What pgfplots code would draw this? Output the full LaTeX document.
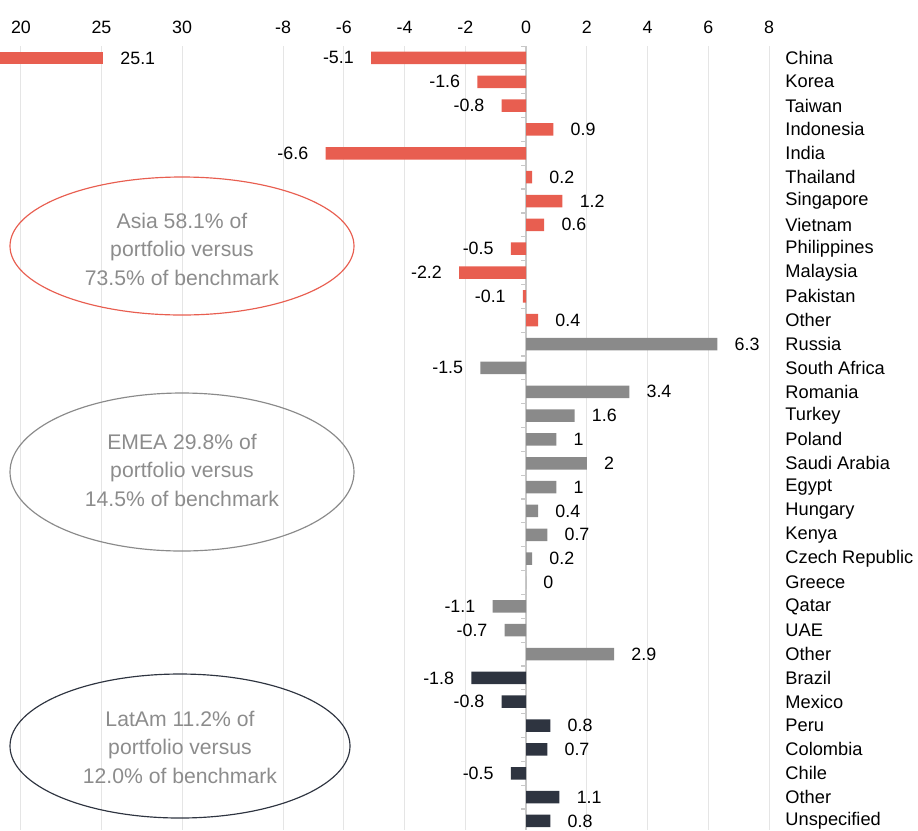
\documentclass[border=0pt]{standalone}
\usepackage{pgfplots}
\pgfplotsset{compat=1.18}
\usepackage{pgfplotstable}
\usepackage{fontspec}
\setmainfont{Liberation Sans}

\definecolor{asiared}{RGB}{232,94,80}
\definecolor{emeagray}{RGB}{138,138,138}
\definecolor{latamdark}{RGB}{46,52,64}
\definecolor{gridgray}{RGB}{229,229,229}
\definecolor{zerogray}{RGB}{200,200,200}
\definecolor{notegray}{RGB}{140,140,140}

\newcommand\lblfont{\fontsize{10.7}{12.8}\selectfont}
\newcommand\catfont{\fontsize{10.95}{13}\selectfont}
\newcommand\notefont{\fontsize{12.7}{17.1}\selectfont}

% Relative weights (percentage points); pos = row, 0 at the top
\pgfplotstableread{
pos val
0   -5.1
1   -1.6
2   -0.8
3   0.9
4   -6.6
5   0.2
6   1.2
7   0.6
8   -0.5
9   -2.2
10  -0.1
11  0.4
}\asia

\pgfplotstableread{
pos val
12  6.3
13  -1.5
14  3.4
15  1.6
16  1
17  2
18  1
19  0.4
20  0.7
21  0.2
22  0
23  -1.1
24  -0.7
25  2.9
}\emea

\pgfplotstableread{
pos val
26  -1.8
27  -0.8
28  0.8
29  0.7
30  -0.5
31  1.1
32  0.8
}\latam

% China on the wide scale
\pgfplotstableread{
pos val
0   25.1
}\chinawide

\pgfplotsset{
  panel/.style={
    scale only axis, height=470.4pt,
    anchor=north west,
    xbar, bar width=7.5pt,
    y dir=reverse, ymin=-0.5, ymax=32.38,
    xticklabel pos=upper,
    axis line style={draw=none},
    tick style={draw=none},
    xmajorgrids, grid style={gridgray, line width=0.6pt},
    xticklabel style={anchor=south, inner sep=0pt, yshift=7.2pt, font=\lblfont},
    /pgf/number format/assume math mode=true,
  },
  % labels to the right of positive bars, to the left of negative ones
  poslab/.style={
    nodes near coords, point meta=explicit symbolic,
    restrict x to domain=0:40,
    every node near coord/.append style={anchor=west, inner xsep=10.2pt,
      inner ysep=0pt, text=black, font=\lblfont},
  },
  neglab/.style={
    nodes near coords, point meta=explicit symbolic,
    restrict x to domain=-40:-0.001,
    every node near coord/.append style={anchor=east, inner xsep=10.2pt,
      inner ysep=0pt, text=black, font=\lblfont},
  },
}

\begin{document}
\begin{tikzpicture}
\useasboundingbox (0,0) rectangle (550.8pt,-498pt);

% wide scale panel
\begin{axis}[panel, at={(0pt,-27.6pt)}, width=150pt,
  xmin=18.70, xmax=34.22, xtick={20,25,30}, ytick=\empty]
  \addplot[fill=asiared, draw=none, bar shift=0pt, poslab]
    table[x=val, y=pos, meta=val] \chinawide;
\end{axis}

% main panel
\begin{axis}[panel, at={(169.8pt,-27.6pt)}, width=291.6pt,
  xmin=-8, xmax=8, xtick={-8,-6,...,8},
  ytick={0,...,32},
  yticklabels={China,Korea,Taiwan,Indonesia,India,Thailand,Singapore,Vietnam,Philippines,Malaysia,Pakistan,Other,
    Russia,South Africa,Romania,Turkey,Poland,Saudi Arabia,Egypt,Hungary,Kenya,Czech Republic,Greece,Qatar,UAE,Other,
    Brazil,Mexico,Peru,Colombia,Chile,Other,Unspecified},
  yticklabel pos=upper,
  yticklabel style={anchor=west, inner sep=0pt, xshift=5.4pt, font=\catfont}]
  \draw[zerogray, line width=0.7pt] (axis cs:0,-0.5) -- (axis cs:0,32.38);
  \pgfplotsinvokeforeach{0,...,32}{
    \draw[zerogray, line width=0.7pt] (axis cs:0,#1-0.5) -- ([xshift=-3pt]axis cs:0,#1-0.5);
  }
  \addplot[fill=asiared, draw=none, bar shift=0pt, poslab]
    table[x=val, y=pos, meta=val] \asia;
  \addplot[fill=asiared, draw=none, bar shift=0pt, neglab]
    table[x=val, y=pos, meta=val] \asia;
  \addplot[fill=emeagray, draw=none, bar shift=0pt, poslab]
    table[x=val, y=pos, meta=val] \emea;
  \addplot[fill=emeagray, draw=none, bar shift=0pt, neglab]
    table[x=val, y=pos, meta=val] \emea;
  \addplot[fill=latamdark, draw=none, bar shift=0pt, poslab]
    table[x=val, y=pos, meta=val] \latam;
  \addplot[fill=latamdark, draw=none, bar shift=0pt, neglab]
    table[x=val, y=pos, meta=val] \latam;
\end{axis}

% regional summaries
\begin{scope}[x=0.6pt, y=-0.6pt]
  \draw[asiared, line width=0.7pt] (182,246) ellipse [x radius=103.2pt, y radius=41.4pt];
  \node[notegray, align=center, font=\notefont] at (182,249)
    {Asia 58.1\% of\\portfolio versus\\73.5\% of benchmark};
  \draw[emeagray, line width=0.7pt] (182,472) ellipse [x radius=103.2pt, y radius=47.4pt];
  \node[notegray, align=center, font=\notefont] at (182,470)
    {EMEA 29.8\% of\\portfolio versus\\14.5\% of benchmark};
  \draw[latamdark, line width=0.7pt] (180,746) ellipse [x radius=102pt, y radius=43.2pt];
  \node[notegray, align=center, font=\notefont] at (180,747)
    {LatAm 11.2\% of\\portfolio versus\\12.0\% of benchmark};
\end{scope}
\end{tikzpicture}
\end{document}
